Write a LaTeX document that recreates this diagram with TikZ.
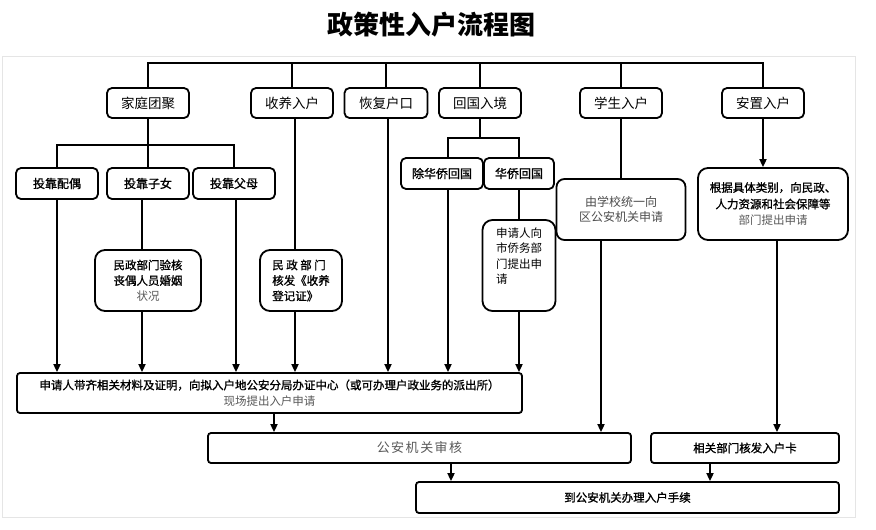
\documentclass[tikz,border=0pt]{standalone}
\usepackage{fontspec}
\setmainfont{Noto Sans CJK SC}
\newfontfamily\cjkheavy{Noto Sans CJK SC}[FakeBold=1.2]
\usetikzlibrary{arrows.meta}
\begin{document}
\begin{tikzpicture}[x=1pt,y=-1pt,line width=1.8pt,
  box/.style={draw,rounded corners=5pt,align=center,inner sep=1pt},
  topbox/.style={box,minimum width=82pt,minimum height=30pt,font=\fontsize{13.5}{16}\selectfont},
  subbox/.style={box,minimum height=31pt,font=\cjkheavy\fontsize{12}{14}\selectfont},
  txtbox/.style={box,rounded corners=10pt,font=\fontsize{11.5}{15.5}\selectfont},
  widebox/.style={box,rounded corners=3pt,font=\fontsize{11.5}{16}\selectfont},
  arr/.style={-{Triangle[length=8pt,width=7pt]}}]
\useasboundingbox (0,0) rectangle (876,530);
\fill[white] (0,0) rectangle (876,530);
\draw[gray!20,line width=0.8pt] (2,56) rectangle (855,517);
% title
\node[font=\fontsize{26}{30}\selectfont\bfseries] (title) at (431,25) {政策性入户流程图};
% top row
\node[topbox] (jt) at (148,103) {家庭团聚};
\node[topbox] (sy) at (292,103) {收养入户};
\node[topbox,minimum width=83pt] (hf) at (386,103) {恢复户口};
\node[topbox] (hg) at (480,103) {回国入境};
\node[topbox] (xs) at (621,103) {学生入户};
\node[topbox] (az) at (763,103) {安置入户};
% second level
\node[subbox,minimum width=82pt] (po) at (57,183.5) {投靠配偶};
\node[subbox,minimum width=82pt] (zn) at (148,183.5) {投靠子女};
\node[subbox,minimum width=82pt] (fm) at (234,183.5) {投靠父母};
\node[subbox,minimum width=82pt] (cq) at (442,173.5) {除华侨回国};
\node[subbox,minimum width=70pt] (hq) at (519,173.5) {华侨回国};
% text boxes
\node[txtbox,minimum width=106pt,minimum height=61pt] (mz1) at (148,280.5)
  {{\cjkheavy 民政部门验核}\\{\cjkheavy 丧偶人员婚姻}\\{\color{black!65}状况}};
\node[txtbox,align=left,minimum width=82pt,minimum height=61pt,font=\cjkheavy\fontsize{11.5}{15.5}\selectfont] (mz2) at (301,280.5)
  {民\kern2.5pt 政\kern2.5pt 部\kern2.5pt 门\\核发《收养\\登记证》};
\node[txtbox,align=left,minimum width=73pt,minimum height=91pt] (sq) at (519,265.5)
  {申请人向\\市侨务部\\门提出申\\请\\[4pt]};
\node[txtbox,minimum width=129pt,minimum height=61pt,rounded corners=8pt,text=black!70,font=\fontsize{12}{15}\selectfont] (xx) at (621,209.5)
  {由学校统一向\\区公安机关申请};
\node[txtbox,minimum width=150pt,minimum height=72pt,font=\fontsize{11.5}{16.5}\selectfont] (gj) at (773,204)
  {{\cjkheavy 根据具体类别，向民政、}\\{\cjkheavy 人力资源和社会保障等}\\{\color{black!65}部门提出申请}};
% bottom boxes
\node[widebox,minimum width=505pt,minimum height=40pt] (big) at (269.5,393)
  {{\cjkheavy 申请人带齐相关材料及证明，向拟入户地公安分局办证中心（或可办理户政业务的派出所）}\\{\color{black!65}现场提出入户申请}};
\node[widebox,minimum width=423pt,minimum height=30pt,text=black!65,font=\fontsize{13}{16}\selectfont] (sh) at (419.5,448)
  {公\kern1.5pt 安\kern1.5pt 机\kern1.5pt 关\kern1.5pt 审\kern1.5pt 核};
\node[widebox,minimum width=188pt,minimum height=30pt,font=\cjkheavy\fontsize{11.5}{16}\selectfont] (xg) at (745,448) {相关部门核发入户卡};
\node[widebox,minimum width=423pt,minimum height=31pt,font=\cjkheavy\fontsize{11.5}{16}\selectfont] (dao) at (627.5,497.5) {到公安机关办理入户手续};
% buses
\coordinate (bus1) at (0,63);
\coordinate (bus2) at (0,145);
\coordinate (bus3) at (0,138);
% top tree
\draw (jt.north) -- (jt.north |- bus1) -- (az.north |- bus1) -- (az.north);
\foreach \n in {sy,hf,hg,xs} \draw (\n.north) -- (\n.north |- bus1);
% family tree
\draw (jt.south) -- (zn.north);
\draw (po.north) -- (po.north |- bus2) -- (fm.north |- bus2) -- (fm.north);
% return tree
\draw (hg.south) -- (hg.south |- bus3);
\draw ([xshift=6pt]cq.north) -- ([xshift=6pt]cq.north |- bus3) -- (hq.north |- bus3) -- (hq.north);
% into big box
\draw[arr] (po.south) -- (po.south |- big.north);
\draw ([xshift=-6pt]zn.south) -- ([xshift=-6pt]zn.south |- mz1.north);
\draw[arr] ([xshift=-6pt]mz1.south) -- ([xshift=-6pt]mz1.south |- big.north);
\draw[arr] ([xshift=2pt]fm.south) -- ([xshift=2pt]fm.south |- big.north);
\draw ([xshift=3pt]sy.south) -- ([xshift=3pt]sy.south |- mz2.north);
\draw[arr] ([xshift=-6pt]mz2.south) -- ([xshift=-6pt]mz2.south |- big.north);
\draw[arr] ([xshift=2pt]hf.south) -- ([xshift=2pt]hf.south |- big.north);
\draw[arr] ([xshift=6pt]cq.south) -- ([xshift=6pt]cq.south |- big.north);
\draw (hq.south) -- (hq.south |- sq.north);
\draw[arr] (sq.south) -- (sq.south |- big.north);
% student and settle
\draw (xs.south) -- (xs.south |- xx.north);
\draw[arr] ([xshift=-20pt]xx.south) -- ([xshift=-20pt]xx.south |- sh.north);
\draw[arr] (az.south) -- (az.south |- gj.north);
\draw[arr] ([xshift=4pt]gj.south) -- ([xshift=4pt]gj.south |- xg.north);
% bottom
\draw[arr] ([xshift=4.5pt]big.south) -- ([xshift=4.5pt]big.south |- sh.north);
\draw[arr] ([xshift=31.5pt]sh.south) -- ([xshift=31.5pt]sh.south |- dao.north);
\draw[arr] ([xshift=-35pt]xg.south) -- ([xshift=-35pt]xg.south |- dao.north);
\end{tikzpicture}
\end{document}
